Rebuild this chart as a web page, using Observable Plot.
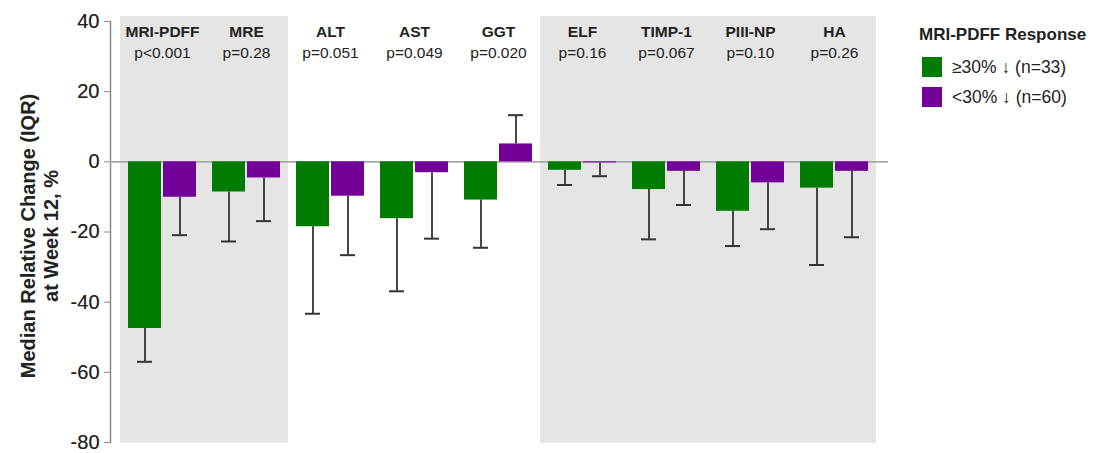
<!DOCTYPE html>
<html>
<head>
<meta charset="utf-8">
<script src="https://cdn.jsdelivr.net/npm/d3@7"></script>
<script src="https://cdn.jsdelivr.net/npm/@observablehq/plot@0.6"></script>
<style>
  body { margin: 0; background: #fff; font-family: "Liberation Sans", Arial, sans-serif; }
  #wrap { position: relative; width: 1100px; height: 453px; }
  #legend { position: absolute; left: 919px; top: 25px; color: #222; }
  #legend .title { font-weight: bold; font-size: 17px; line-height: 20px; margin-bottom: 12px; }
  #legend .item { display: flex; align-items: center; height: 20px; margin: 0 0 10px 3px; font-size: 17.5px; }
  #legend .sw { width: 20px; height: 20px; margin-right: 10px; }
</style>
</head>
<body>
<div id="wrap"><div id="legend"></div></div>
<script>
// Biomarkers and their between-group p values
const groups = ["MRI-PDFF", "MRE", "ALT", "AST", "GGT", "ELF", "TIMP-1", "PIII-NP", "HA"];
const pValues = ["p<0.001", "p=0.28", "p=0.051", "p=0.049", "p=0.020", "p=0.16", "p=0.067", "p=0.10", "p=0.26"];
// Biomarker blocks shown on a grey background
const shadedGroups = ["MRI-PDFF", "MRE", "ELF", "TIMP-1", "PIII-NP", "HA"];

// Response groups
const seriesNames = ["≥30% ↓ (n=33)", "<30% ↓ (n=60)"];
const seriesColors = ["#007d00", "#74009a"];

// Median relative change at week 12 (%) and the IQR bound drawn as the whisker
const responderMedian = [-47.5, -8.6, -18.5, -16.2, -10.9, -2.4, -7.9, -14.1, -7.5];
const responderIqr = [-57.0, -22.7, -43.3, -36.9, -24.5, -6.6, -22.1, -24.0, -29.4];
const nonResponderMedian = [-10.1, -4.6, -9.8, -3.1, 5.1, -0.3, -2.7, -6.0, -2.7];
const nonResponderIqr = [-20.9, -16.9, -26.6, -21.9, 13.3, -4.1, -12.3, -19.2, -21.5];

const yTicks = [-80, -60, -40, -20, 0, 20, 40];

const rows = [
  ...groups.map((g, i) => ({group: g, series: seriesNames[0], median: responderMedian[i], iqr: responderIqr[i]})),
  ...groups.map((g, i) => ({group: g, series: seriesNames[1], median: nonResponderMedian[i], iqr: nonResponderIqr[i]}))
];
const resp = rows.filter(d => d.series === seriesNames[0]);
const nonResp = rows.filter(d => d.series === seriesNames[1]);
const labels = groups.map((g, i) => ({group: g, p: pValues[i]}));

const font = "'Liberation Sans', Arial, sans-serif";
const ink = "#333";

const chart = Plot.plot({
  width: 1100,
  height: 453,
  marginTop: 21,
  marginBottom: 11,
  marginLeft: 110,
  marginRight: 212,
  style: {fontFamily: font, background: "transparent", overflow: "visible"},
  x: {domain: groups, padding: 0, insetLeft: 10, insetRight: 12, axis: null},
  y: {domain: [-80, 40]},
  color: {domain: seriesNames, range: seriesColors},
  marks: [
    // grey blocks behind the imaging and fibrosis-marker groups
    Plot.cell(shadedGroups, {x: d => d, fill: "#e5e5e5", insetTop: -5, insetBottom: -1}),
    // y axis line
    Plot.frame({anchor: "left", stroke: "#8a8a8a", strokeWidth: 1.5}),
    Plot.axisY({ticks: yTicks, tickSize: 6, tickPadding: 5, fontSize: 20, color: "#8a8a8a", label: null,
      tickFormat: d => String(d)}),
    Plot.axisY({ticks: yTicks, tickSize: 0, tickPadding: 11, fontSize: 20, fill: "#222", label: null,
      tickFormat: d => String(d)}),
    // zero reference line
    Plot.ruleY([0], {stroke: "#a9a9a9", strokeWidth: 1.6}),
    // bars
    Plot.barY(resp, {x: "group", y: "median", fill: "series", insetLeft: 8, insetRight: 43}),
    Plot.barY(nonResp, {x: "group", y: "median", fill: "series", insetLeft: 43, insetRight: 8}),
    // IQR whiskers
    Plot.ruleX(resp, {x: "group", y1: "median", y2: "iqr", dx: -17.5, stroke: ink, strokeWidth: 1.8}),
    Plot.ruleX(nonResp, {x: "group", y1: "median", y2: "iqr", dx: 17.5, stroke: ink, strokeWidth: 1.8}),
    Plot.tickY(resp, {x: "group", y: "iqr", insetLeft: 17, insetRight: 52, stroke: ink, strokeWidth: 2}),
    Plot.tickY(nonResp, {x: "group", y: "iqr", insetLeft: 52, insetRight: 17, stroke: ink, strokeWidth: 2}),
    // biomarker names and p values
    Plot.text(labels, {x: "group", text: "group", frameAnchor: "top", lineAnchor: "middle", dy: 11,
      fontSize: 15.5, fontWeight: "bold", fill: "#222"}),
    Plot.text(labels, {x: "group", text: "p", frameAnchor: "top", lineAnchor: "middle", dy: 32,
      fontSize: 15.5, fill: "#222"}),
    // y axis title
    Plot.text(["Median Relative Change (IQR)\nat Week 12, %"], {frameAnchor: "left", textAnchor: "middle", rotate: -90,
      dx: -71, dy: 4, lineAnchor: "middle", lineHeight: 1.15, fontSize: 20, fontWeight: "bold", fill: "#222"})
  ]
});

const wrap = document.getElementById("wrap");
wrap.insertBefore(chart, wrap.firstChild);

// legend
const legend = d3.select("#legend");
legend.append("div").attr("class", "title").text("MRI-PDFF Response");
seriesNames.forEach((s, i) => {
  const item = legend.append("div").attr("class", "item");
  item.append("div").attr("class", "sw").style("background", seriesColors[i]);
  item.append("span").text(s);
});
</script>
</body>
</html>
